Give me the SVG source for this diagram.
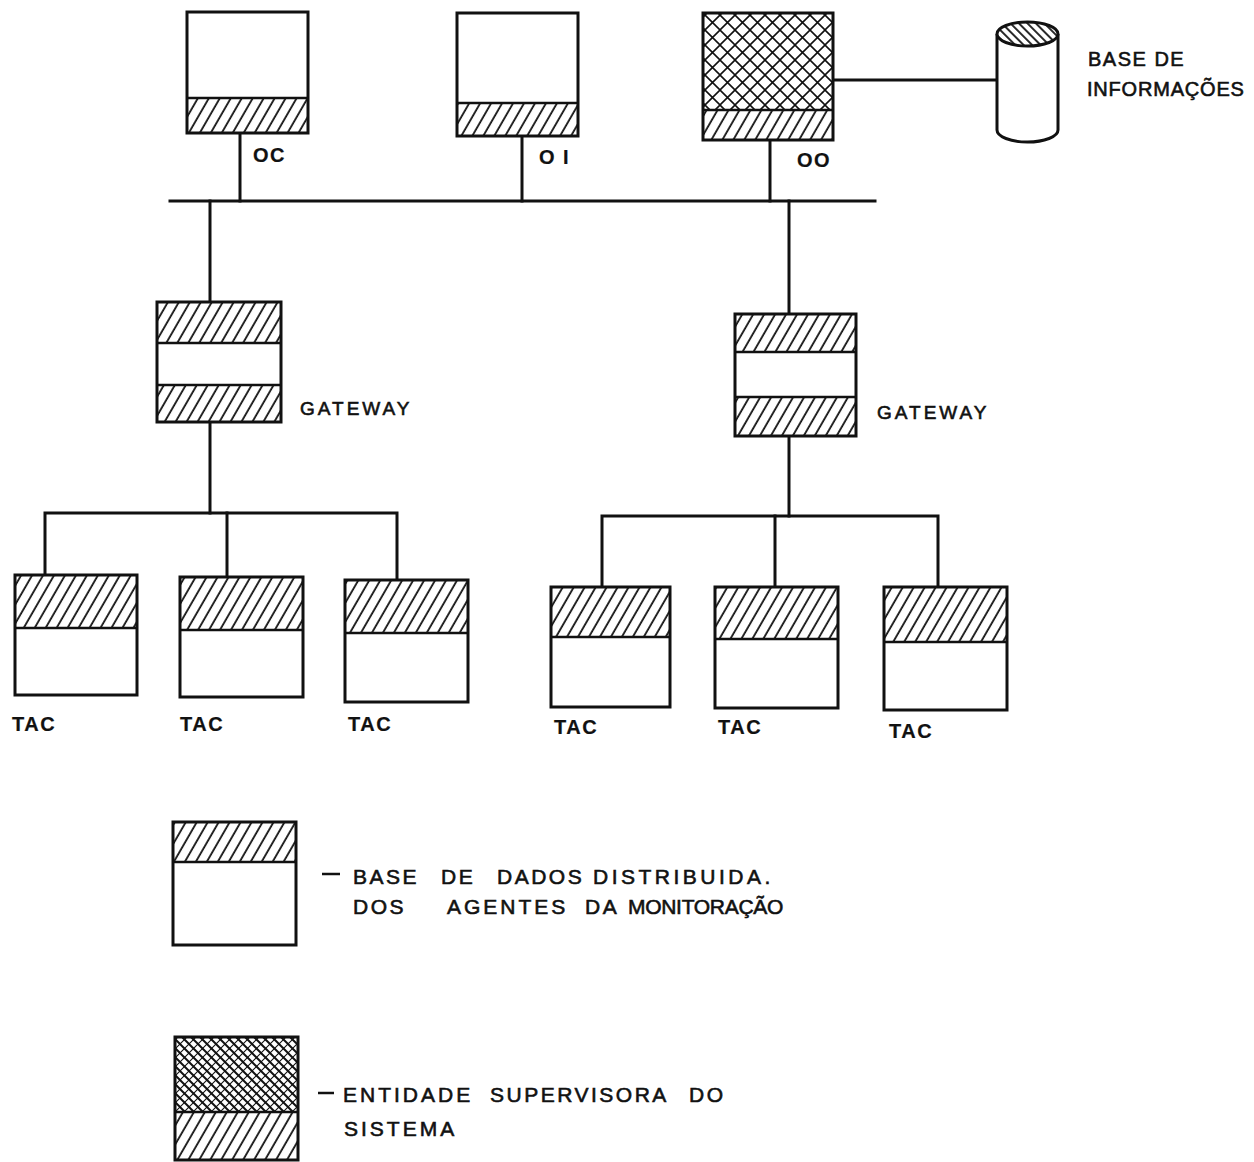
<svg xmlns="http://www.w3.org/2000/svg" width="1254" height="1162" viewBox="0 0 1254 1162">
<style>
.frame{fill:none;stroke:#111;stroke-width:3}
.sep{stroke:#111;stroke-width:2.5}
.ln{fill:none;stroke:#111;stroke-width:3;stroke-linecap:square}
.h{fill:url(#hatch)}
.x{fill:url(#cross)}
.t{font-family:"Liberation Sans",Arial,sans-serif;fill:#111;stroke:#111;stroke-width:0.6;font-size:20px;letter-spacing:2px}
.b{font-weight:bold;stroke-width:0.2;letter-spacing:1.5px}
.g{font-size:19px;letter-spacing:3px}
.lg{font-size:21px;letter-spacing:2.5px}
</style>
<defs>
<pattern id="hatch" patternUnits="userSpaceOnUse" width="9.5" height="10" patternTransform="rotate(30)">
<rect width="9.5" height="10" fill="#fff"/>
<line x1="2" y1="-1" x2="2" y2="11" stroke="#111" stroke-width="1.8"/>
</pattern>
<pattern id="hatchb" patternUnits="userSpaceOnUse" width="6" height="10" patternTransform="rotate(-45)">
<rect width="6" height="10" fill="#fff"/>
<line x1="2" y1="-1" x2="2" y2="11" stroke="#111" stroke-width="1.8"/>
</pattern>
<pattern id="cross" patternUnits="userSpaceOnUse" width="15" height="15">
<rect width="15" height="15" fill="#fff"/>
<path d="M-4,4 L4,-4 M0,15 L15,0 M11,19 L19,11 M-4,11 L4,19 M0,0 L15,15 M11,-4 L19,4" stroke="#111" stroke-width="1.6"/>
</pattern>
<pattern id="cross2" patternUnits="userSpaceOnUse" width="9" height="9">
<rect width="9" height="9" fill="#fff"/>
<path d="M-2,2 L2,-2 M0,9 L9,0 M7,11 L11,7" stroke="#111" stroke-width="1.1"/>
<path d="M-2,7 L2,11 M0,0 L9,9 M7,-2 L11,2" stroke="#111" stroke-width="2"/>
</pattern>
</defs>

<g id="connectors">
<path class="ln" d="M170,201 H875"/>
<path class="ln" d="M240,133 V201"/>
<path class="ln" d="M522,136 V201"/>
<path class="ln" d="M770,140 V201"/>
<path class="ln" d="M833,80 H997"/>
<path class="ln" d="M210,201 V302"/>
<path class="ln" d="M210,422 V513"/>
<path class="ln" d="M45,575 V513 H397 V580"/>
<path class="ln" d="M227,513 V577"/>
<path class="ln" d="M789,201 V314"/>
<path class="ln" d="M789,436 V516"/>
<path class="ln" d="M602,587 V516 H938 V587"/>
<path class="ln" d="M775,516 V587"/>
</g>

<g id="OC">
<rect x="187" y="98" width="121" height="35" class="h"/>
<line x1="187" y1="98" x2="308" y2="98" class="sep"/>
<rect x="187" y="12" width="121" height="121" class="frame"/>
<text x="253" y="162" class="t b">OC</text>
</g>
<g id="OI">
<rect x="457" y="103" width="121" height="33" class="h"/>
<line x1="457" y1="103" x2="578" y2="103" class="sep"/>
<rect x="457" y="13" width="121" height="123" class="frame"/>
<text x="539" y="164" class="t b">O I</text>
</g>
<g id="OO">
<rect x="703" y="13" width="130" height="97" class="x"/>
<rect x="703" y="110" width="130" height="30" class="h"/>
<line x1="703" y1="110" x2="833" y2="110" class="sep"/>
<rect x="703" y="13" width="130" height="127" class="frame"/>
<text x="797" y="167" class="t b">OO</text>
</g>
<g id="base-informacoes">
<path d="M997,34 V130 A30.5,12 0 0 0 1058,130 V34" fill="#fff" stroke="#111" stroke-width="3"/>
<ellipse cx="1027.5" cy="34" rx="30.5" ry="12" fill="url(#hatchb)" stroke="#111" stroke-width="3"/>
<text x="1088" y="66" class="t" style="letter-spacing:1.5px">BASE DE</text>
<text x="1087" y="96" class="t" style="letter-spacing:0.8px">INFORMAÇÕES</text>
</g>

<g id="gateway-left">
<rect x="157" y="302" width="124" height="41" class="h"/>
<rect x="157" y="385" width="124" height="37" class="h"/>
<line x1="157" y1="343" x2="281" y2="343" class="sep"/>
<line x1="157" y1="385" x2="281" y2="385" class="sep"/>
<rect x="157" y="302" width="124" height="120" class="frame"/>
<text x="300" y="415" class="t g">GATEWAY</text>
</g>
<g id="gateway-right">
<rect x="735" y="314" width="121" height="38" class="h"/>
<rect x="735" y="397" width="121" height="39" class="h"/>
<line x1="735" y1="352" x2="856" y2="352" class="sep"/>
<line x1="735" y1="397" x2="856" y2="397" class="sep"/>
<rect x="735" y="314" width="121" height="122" class="frame"/>
<text x="877" y="419" class="t g">GATEWAY</text>
</g>

<g id="tac-1">
<rect x="15" y="575" width="122" height="53" class="h"/>
<line x1="15" y1="628" x2="137" y2="628" class="sep"/>
<rect x="15" y="575" width="122" height="120" class="frame"/>
<text x="12" y="731" class="t b">TAC</text>
</g>
<g id="tac-2">
<rect x="180" y="577" width="123" height="53" class="h"/>
<line x1="180" y1="630" x2="303" y2="630" class="sep"/>
<rect x="180" y="577" width="123" height="120" class="frame"/>
<text x="180" y="731" class="t b">TAC</text>
</g>
<g id="tac-3">
<rect x="345" y="580" width="123" height="53" class="h"/>
<line x1="345" y1="633" x2="468" y2="633" class="sep"/>
<rect x="345" y="580" width="123" height="122" class="frame"/>
<text x="348" y="731" class="t b">TAC</text>
</g>
<g id="tac-4">
<rect x="551" y="587" width="119" height="50" class="h"/>
<line x1="551" y1="637" x2="670" y2="637" class="sep"/>
<rect x="551" y="587" width="119" height="120" class="frame"/>
<text x="554" y="734" class="t b">TAC</text>
</g>
<g id="tac-5">
<rect x="715" y="587" width="123" height="52" class="h"/>
<line x1="715" y1="639" x2="838" y2="639" class="sep"/>
<rect x="715" y="587" width="123" height="121" class="frame"/>
<text x="718" y="734" class="t b">TAC</text>
</g>
<g id="tac-6">
<rect x="884" y="587" width="123" height="55" class="h"/>
<line x1="884" y1="642" x2="1007" y2="642" class="sep"/>
<rect x="884" y="587" width="123" height="123" class="frame"/>
<text x="889" y="738" class="t b">TAC</text>
</g>

<g id="legend-base-dados">
<rect x="173" y="822" width="123" height="40" class="h"/>
<line x1="173" y1="862" x2="296" y2="862" class="sep"/>
<rect x="173" y="822" width="123" height="123" class="frame"/>
<line x1="322" y1="874" x2="340" y2="874" stroke="#111" stroke-width="2.5"/>
<text y="884" class="t lg"><tspan x="353">BASE</tspan><tspan x="441">DE</tspan><tspan x="497">DADOS</tspan><tspan x="593" style="letter-spacing:3.5px">DISTRIBUIDA.</tspan></text>
<text y="914" class="t lg"><tspan x="353">DOS</tspan><tspan x="447" style="letter-spacing:3px">AGENTES</tspan><tspan x="585">DA</tspan><tspan x="628" style="letter-spacing:-0.3px">MONITORAÇÃO</tspan></text>
</g>
<g id="legend-entidade">
<rect x="175" y="1037" width="123" height="75" fill="url(#cross2)"/>
<rect x="175" y="1112" width="123" height="48" class="h"/>
<line x1="175" y1="1112" x2="298" y2="1112" class="sep"/>
<rect x="175" y="1037" width="123" height="123" class="frame"/>
<line x1="318" y1="1093" x2="334" y2="1093" stroke="#111" stroke-width="2.5"/>
<text y="1102" class="t lg"><tspan x="343" style="letter-spacing:3px">ENTIDADE</tspan><tspan x="490">SUPERVISORA</tspan><tspan x="689">DO</tspan></text>
<text x="344" y="1136" class="t lg" style="letter-spacing:3px">SISTEMA</text>
</g>
</svg>
